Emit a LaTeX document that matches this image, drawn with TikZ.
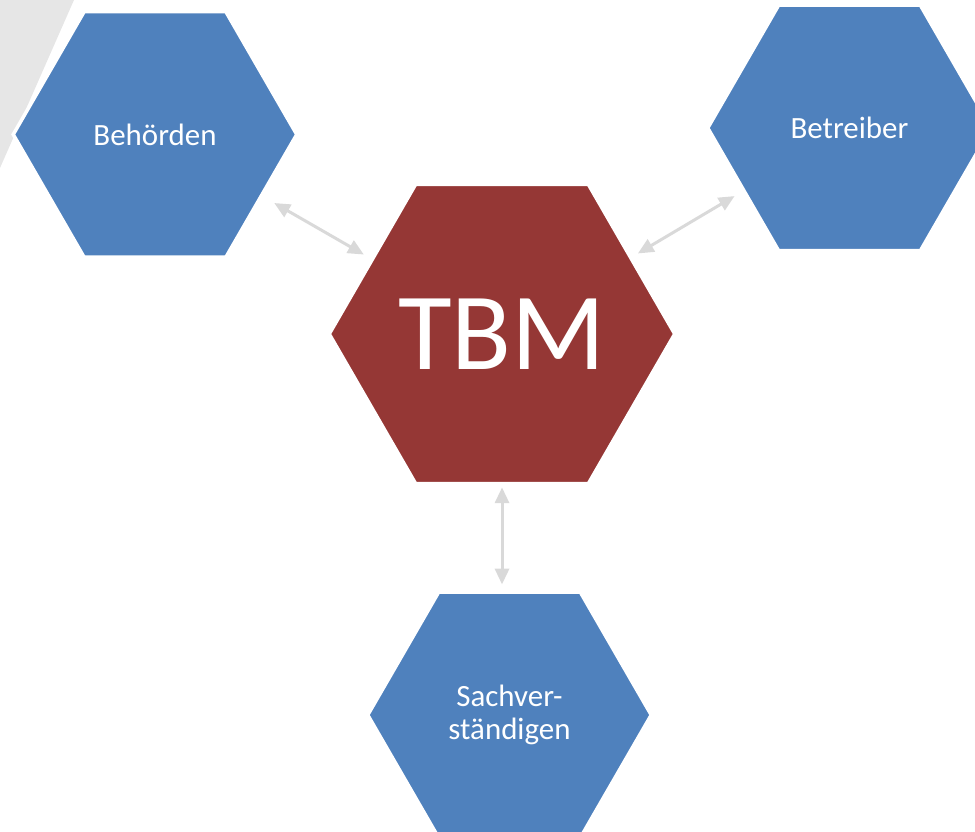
\documentclass[tikz,border=0pt]{standalone}
\usepackage{fontspec}
\setmainfont{Carlito}
\usetikzlibrary{arrows.meta,positioning,shapes.geometric}
\definecolor{hexblue}{HTML}{4F81BD}
\definecolor{hexred}{HTML}{953735}
\definecolor{linkgray}{HTML}{D9D9D9}
\definecolor{backgray}{HTML}{E6E6E6}
\tikzset{
   party/.style={ regular polygon, regular polygon sides=6, fill=hexblue, draw=white, line width=2pt, inner sep=0pt, minimum size=5.67cm, text=white, align=center, font=\fontsize{17.6}{18.8}\selectfont},
   core/.style={ regular polygon, regular polygon sides=6, fill=hexred, draw=white, line width=2pt, inner sep=0pt, minimum size=6.91cm, text=white, font=\fontsize{62.6}{64}\selectfont},
   link/.style={ {Triangle[length=9pt,width=8pt]}-{Triangle[length=9pt,width=8pt]}, draw=linkgray, line width=1.7pt},
}

\begin{document}
\begin{tikzpicture}

  \useasboundingbox (0,0) rectangle (19.5,16.64);
  \clip (0,0) rectangle (19.5,16.64);

  %% background sliver
  \fill[backgray] (0,16.64) -- (1.48,16.64) -- (0,13.28) -- cycle;

  \node[core]  at (10.04,9.96)  (tbm)      {TBM};
  \node[party] at (3.10,13.95)  (behoerden) {Behörden};
  \node[party] at (16.99,14.08) (betreiber) {Betreiber};
  \node[party] at (10.19,2.34)  (sachv)     {Sachver-\\ständigen};

  \coordinate (below tbm) at (tbm.south |- sachv.north);

  \draw[link, shorten <=0.26cm, shorten >=0.16cm] (behoerden) -- (tbm);
  \draw[link, shorten <=0.18cm, shorten >=0.13cm] (betreiber) -- (tbm);
  \draw[link, shorten <=0.04cm, shorten >=0.12cm] (tbm.south) -- (below tbm);

\end{tikzpicture}
\end{document}
